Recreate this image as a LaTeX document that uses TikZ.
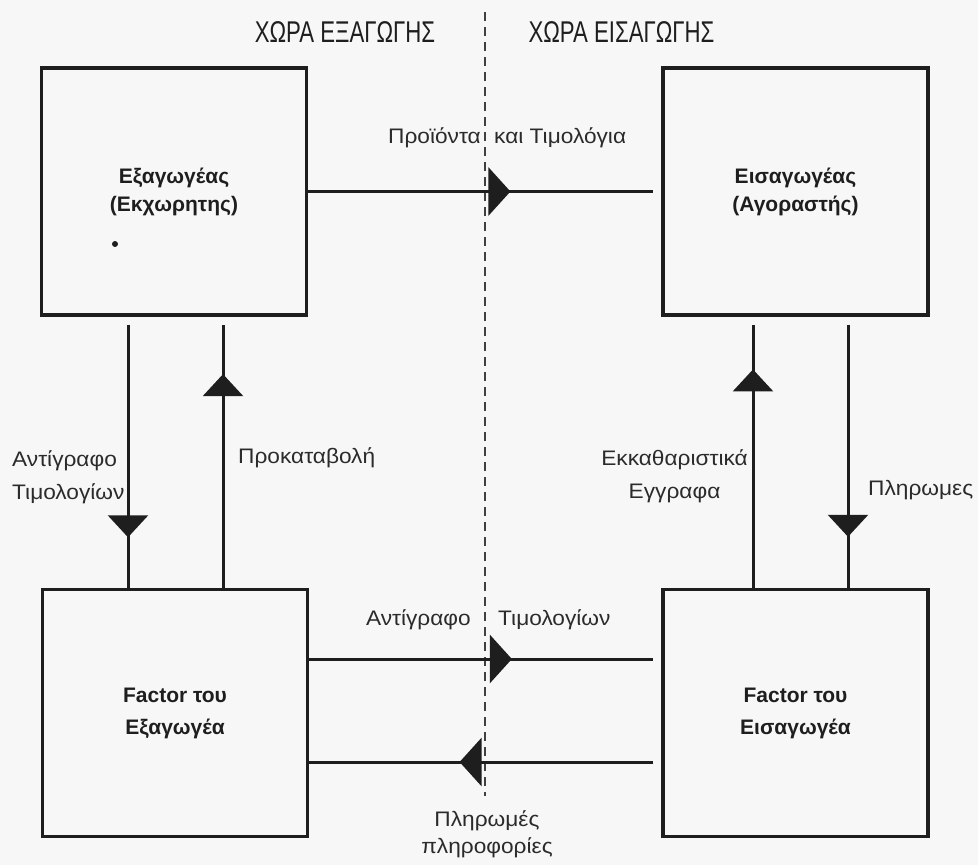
\documentclass[tikz,border=0pt]{standalone}
\usepackage{fontspec}
\setmainfont{Liberation Sans}
\newfontfamily\headfont[FakeStretch=0.74]{Liberation Sans}
\newfontfamily\lblfont[FakeStretch=1.08]{Liberation Sans}
\usetikzlibrary{arrows.meta,decorations.markings,calc}
\definecolor{ink}{HTML}{1E1E1E}
\definecolor{paper}{HTML}{F7F7F7}
\definecolor{labelink}{HTML}{2B2B2B}

\tikzset{
  party/.style={draw=ink, line width=3.4pt, minimum width=265pt, minimum height=247pt,
    inner sep=0pt, align=center, text=ink,
    font=\fontsize{21}{28}\selectfont\bfseries},
  flow/.style={draw=ink, line width=3pt},
  htip/.style={postaction={decorate}, decoration={markings,
    mark=at position #1 with {\arrow{Triangle[length=22pt,width=48pt]}}}},
  vtip/.style={postaction={decorate}, decoration={markings,
    mark=at position #1 with {\arrow{Triangle[length=22pt,width=40pt]}}}},
  lbl/.style={font=\lblfont\fontsize{21}{33}\selectfont, text=labelink, inner sep=0pt},
  head/.style={font=\headfont\fontsize{30}{36}\selectfont, text=ink, inner sep=0pt},
  border/.style={draw=ink!85, line width=1.3pt, dash pattern=on 9pt off 6pt},
}

\begin{document}
\begin{tikzpicture}[x=1pt,y=-1pt]
  \fill[paper] (0,0) rectangle (978,865);
  \useasboundingbox (0,0) rectangle (978,865);

  % country border
  \coordinate (btop) at (485,12);
  \coordinate (bbot) at (485,796);
  \draw[border] (btop) -- (bbot);

  % headings
  \node[head, anchor=base] (h1) at (345,42) {ΧΩΡΑ ΕΞΑΓΩΓΗΣ};
  \node[head, anchor=base] (h2) at (621.5,42) {ΧΩΡΑ ΕΙΣΑΓΩΓΗΣ};

  % parties
  \node[party] (exp) at (174,191.5) {Εξαγωγέας\\(Εκχωρητης)};
  \node[party] (imp) at (795.5,191.5) {Εισαγωγέας\\(Αγοραστής)};
  \node[party, font=\fontsize{21}{32}\selectfont\bfseries] (fexp) at (175,713) {Factor του\\Εξαγωγέα};
  \node[party, font=\fontsize{21}{32}\selectfont\bfseries] (fimp) at (795.5,713) {Factor του\\Εισαγωγέα};
  \fill[ink] (115,244) circle[radius=3];

  % connector end points
  \coordinate (ld1) at ($(exp.south)+(-46,8)$);
  \coordinate (ld2) at (ld1 |- fexp.north);
  \coordinate (lu1) at ($(fexp.north)+(48,0)$);
  \coordinate (lu2) at (lu1 |- ld1);
  \coordinate (ru1) at ($(fimp.north)+(-42.5,0)$);
  \coordinate (ru2) at (ru1 |- ld1);
  \coordinate (rd1) at ($(imp.south)+(52.5,8)$);
  \coordinate (rd2) at (rd1 |- fimp.north);
  \coordinate (bt1) at ($(fexp.east)+(0,-54)$);
  \coordinate (bt2) at ($(fimp.west)+(-8,-54)$);
  \coordinate (bb1) at ($(fimp.west)+(-8,49)$);
  \coordinate (bb2) at ($(fexp.east)+(0,49)$);

  % flows
  \draw[flow, htip=0.586] (exp.east) -- ($(imp.west)+(-8,0)$);
  \draw[flow, vtip=0.808] (ld1) -- (ld2);
  \draw[flow, vtip=0.812] (lu1) -- (lu2);
  \draw[flow, vtip=0.83] (ru1) -- (ru2);
  \draw[flow, vtip=0.806] (rd1) -- (rd2);
  \draw[flow, htip=0.589] (bt1) -- (bt2);
  \draw[flow, htip=0.563] (bb1) -- (bb2);

  % flow labels
  \node[lbl, anchor=base east] (l1) at (481,143) {Προϊόντα};
  \node[lbl, anchor=base west] (l2) at (494,143) {και Τιμολόγια};
  \node[lbl, anchor=west, align=left] (l3) at (12,477) {Αντίγραφο\\Τιμολογίων};
  \node[lbl, anchor=base west] (l4) at (238,463) {Προκαταβολή};
  \node[lbl, anchor=east, align=center] (l5) at (748,476) {Εκκαθαριστικά\\Εγγραφα};
  \node[lbl, anchor=base west] (l6) at (868,495) {Πληρωμες};
  \node[lbl, anchor=base east] (l7) at (471,625) {Αντίγραφο};
  \node[lbl, anchor=base west] (l8) at (498,625) {Τιμολογίων};
  \node[lbl, align=center, font=\lblfont\fontsize{21}{27}\selectfont] (l9) at (487,834) {Πληρωμές\\πληροφορίες};
\end{tikzpicture}
\end{document}
